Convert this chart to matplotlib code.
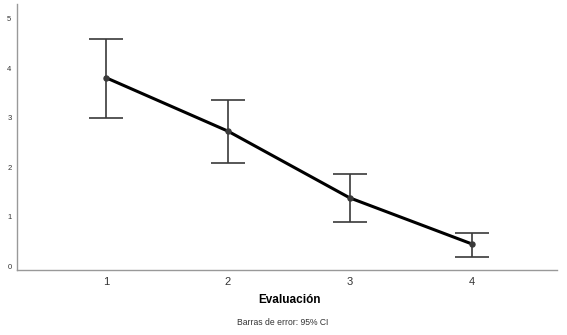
import matplotlib
matplotlib.use("Agg")
import matplotlib.pyplot as plt

plt.rcParams['font.family'] = ['Liberation Sans', 'DejaVu Sans']

evaluacion = [1, 2, 3, 4]
means = [3.81, 2.73, 1.38, 0.45]
ci_upper = [4.60, 3.36, 1.86, 0.67]
ci_lower = [3.00, 2.09, 0.89, 0.18]
yticks = [0, 1, 2, 3, 4, 5]

fig = plt.figure(figsize=(5.67, 3.35), dpi=100)
ax = fig.add_axes([0.030, 0.194, 0.952, 0.794])

yerr = [[m - lo for m, lo in zip(means, ci_lower)],
        [hi - m for m, hi in zip(means, ci_upper)]]
ax.errorbar(evaluacion, means, yerr=yerr, fmt='none', ecolor='#3a3a3a',
            elinewidth=1.2, capsize=12.5, capthick=1.2, zorder=2)
ax.plot(evaluacion, means, color='black', linewidth=2.2, zorder=3)
ax.plot(evaluacion, means, 'o', color='#3a3a3a', markersize=3.6, zorder=4)

ax.set_xlim(0.27, 4.70)
ax.set_ylim(-0.08, 5.3)
ax.set_xticks(evaluacion)
ax.set_xticklabels([str(v) for v in evaluacion], fontsize=8, color='#333333')
ax.set_yticks(yticks)
ax.set_yticklabels([str(v) for v in yticks], fontsize=5.5, color='#333333')
ax.tick_params(axis='both', length=0)
ax.tick_params(axis='x', pad=5)
ax.tick_params(axis='y', pad=4)
for s in ['top', 'right']:
    ax.spines[s].set_visible(False)
for s in ['left', 'bottom']:
    ax.spines[s].set_color('#999999')
    ax.spines[s].set_linewidth(1.0)

fig.text(0.510, 0.103, 'Evaluación', ha='center', va='center', fontsize=8.5, fontweight='bold')
fig.text(0.499, 0.037, 'Barras de error: 95% CI', ha='center', va='center', fontsize=6.2, color='#333333')

fig.savefig('out.png', dpi=100)
